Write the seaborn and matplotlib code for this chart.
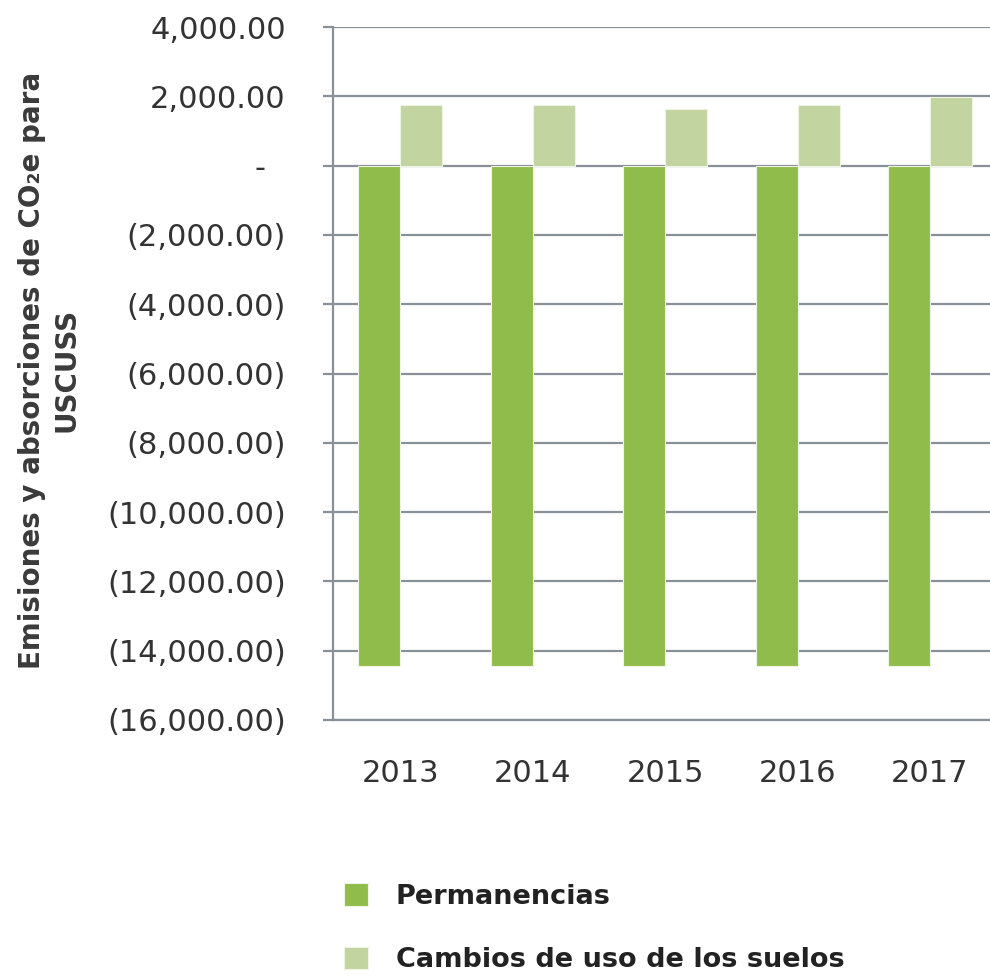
import pandas as pd
import numpy as np
import matplotlib.pyplot as plt
import seaborn as sns
from matplotlib.ticker import FuncFormatter, MultipleLocator

# values
years = ['2013', '2014', '2015', '2016', '2017']
permanencias = [-14450, -14450, -14450, -14450, -14450]
cambios = [1750, 1750, 1640, 1750, 1980]
series = ['Permanencias', 'Cambios de uso de los suelos']
colors = ['#8fbc4b', '#c2d4a0']

df = pd.DataFrame({
    'year': years * 2,
    'serie': [series[0]] * len(years) + [series[1]] * len(years),
    'valor': permanencias + cambios,
})

sns.set_style('white')
plt.rcParams['font.family'] = ['DejaVu Sans']

grid_c = '#8a9097'
text_c = '#333333'

fig = plt.figure(figsize=(9.9, 9.76), dpi=100)
ax = fig.add_axes([0.3364, 0.2623, 0.6636, 0.71])

sns.barplot(data=df, x='year', y='valor', hue='serie', hue_order=series,
            palette=colors, width=0.634, edgecolor='#eef3e4', linewidth=0.8,
            saturation=1, ax=ax, zorder=3)

handles, labels = ax.get_legend_handles_labels()
ax.get_legend().remove()

ax.set_ylim(-16000, 4000)
ax.set_xlim(-0.506, 4.453)
ax.yaxis.set_major_locator(MultipleLocator(2000))


def fmt(v, pos):
    if abs(v) < 1e-9:
        return '-  '
    s = f'{abs(v):,.2f}'
    return s if v > 0 else f'({s})'


ax.yaxis.set_major_formatter(FuncFormatter(fmt))
ax.grid(axis='y', color=grid_c, linewidth=1.6, zorder=0)
ax.set_axisbelow(True)

for side in ['top', 'right']:
    ax.spines[side].set_visible(False)
for side in ['left', 'bottom']:
    ax.spines[side].set_color(grid_c)
    ax.spines[side].set_linewidth(1.6)

ax.tick_params(axis='y', length=7, width=1.6, color=grid_c, pad=27,
               labelsize=22, labelcolor=text_c, left=True)
ax.tick_params(axis='x', length=0, pad=28, labelsize=22, labelcolor=text_c)
ax.set_xlabel('')
ax.set_ylabel('')

fig.text(49 / 990, 1 - 370 / 976,
         'Emisiones y absorciones de CO₂e para\nUSCUSS',
         rotation=90, ha='center', va='center', multialignment='center',
         fontsize=20, fontweight='bold', color='#3a3a3a', linespacing=1.3)

fig.legend(handles, labels, loc='upper left', bbox_to_anchor=(0.347, 0.095),
           frameon=False, prop={'size': 19.5, 'weight': 'bold'},
           labelcolor='#222222', handlelength=0.92, handleheight=0.92,
           handletextpad=1.0, labelspacing=1.35, borderpad=0, borderaxespad=0)

fig.savefig('out.png', dpi=100)
